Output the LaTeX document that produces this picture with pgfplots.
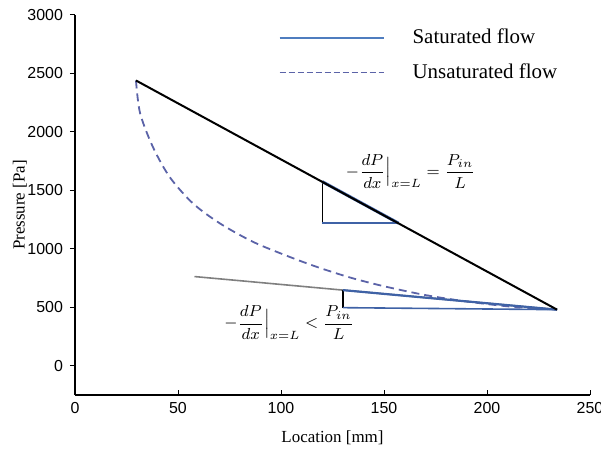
\documentclass[border=0pt]{standalone}
\usepackage{fontspec}
\setmainfont{Liberation Serif}
\newfontfamily\arial{Liberation Sans}
\usepackage{amsmath}
\usepackage{pgfplots}
\pgfplotsset{compat=1.18}
\definecolor{satBlue}{HTML}{4F7DBF}
\definecolor{unsatBlue}{HTML}{5B63A8}
\definecolor{triBlue}{HTML}{3F62A6}
\definecolor{lineGrey}{HTML}{7F7F7F}

\begin{document}
\begin{tikzpicture}
\begin{axis}[
  scale only axis, width=257.5bp, height=190bp,
  xmin=0, xmax=250, ymin=-250, ymax=3000,
  axis lines*=left,
  xtick={0,50,...,250}, ytick={0,500,...,3000},
  xtick align=inside, ytick align=outside,
  major tick length=2.5bp,
  tick style={black, line width=0.5bp},
  axis line style={black, line width=0.6bp},
  ticklabel style={font=\arial\fontsize{8}{9}\selectfont},
  /pgf/number format/assume math mode=true,
  /pgf/number format/1000 sep={},
  scaled ticks=false,
  xlabel={Location [mm]}, ylabel={Pressure [Pa]},
  label style={font=\fontsize{8.5}{10}\selectfont},
  xlabel style={at={(rel axis cs:0.5,-0.113)}, anchor=center},
  ylabel style={at={(rel axis cs:-0.107,0.5)}, anchor=center},
  clip=false,
  legend style={draw=none, fill=none, at={(rel axis cs:0.395,0.975)}, anchor=north west,
    font=\fontsize{10.5}{12}\selectfont, row sep=4.5bp, inner sep=0pt},
  legend cell align=left,
  legend image code/.code={\draw[#1] (0bp,0bp) -- (52bp,0bp); \path (64bp,0bp);},
]
\addlegendimage{satBlue, line width=0.9bp}
\addlegendentry{Saturated flow}
\addlegendimage{unsatBlue, dash pattern=on 3bp off 1.5bp, line width=0.9bp}
\addlegendentry{Unsaturated flow}

% unsaturated profile
\addplot[unsatBlue, dash pattern=on 4bp off 2.5bp, line width=0.9bp, smooth, forget plot]
  coordinates {
    (29.6,2440) (31.6,2160) (37.9,1868) (46.1,1611) (57.3,1388) (70.4,1217)
    (86.4,1060) (102.9,940) (117.5,845) (133.5,755) (150,680) (170,605)
    (190,550) (212,505) (234,480)
  };
% low-gradient line
\addplot[lineGrey, line width=0.8bp, forget plot] coordinates {(58,763) (234,480)};
% slope triangle, lower
\addplot[black, line width=0.7bp, forget plot] coordinates {(130,647) (130,497)};
\addplot[triBlue, line width=0.8bp, forget plot] coordinates {(130,497) (234,480)};
\addplot[triBlue, line width=1.1bp, forget plot] coordinates {(130,647) (234,480)};
% slope triangle, upper
\addplot[black, line width=0.7bp, forget plot] coordinates {(120,1575) (120,1220)};
\addplot[triBlue, line width=0.8bp, forget plot] coordinates {(120,1220) (157,1220)};
\addplot[triBlue, line width=1.5bp, forget plot] coordinates {(120,1575) (157,1220)};
% saturated line
\addplot[black, line width=1bp, forget plot] coordinates {(29.6,2440) (234,480)};

\node[font=\fontsize{8.5}{10}\selectfont] at (axis cs:163,1665)
  {$-\dfrac{dP}{dx}\Big|_{x=L} = \dfrac{P_{in}}{L}$};
\node[font=\fontsize{8.5}{10}\selectfont] at (axis cs:104,368)
  {$-\dfrac{dP}{dx}\Big|_{x=L} < \dfrac{P_{in}}{L}$};
\end{axis}
\pgfresetboundingbox
\useasboundingbox ([shift={(-37.5bp,-30bp)}]current axis.south west)
  rectangle ([shift={(5.5bp,7.5bp)}]current axis.north east);
\end{tikzpicture}
\end{document}
